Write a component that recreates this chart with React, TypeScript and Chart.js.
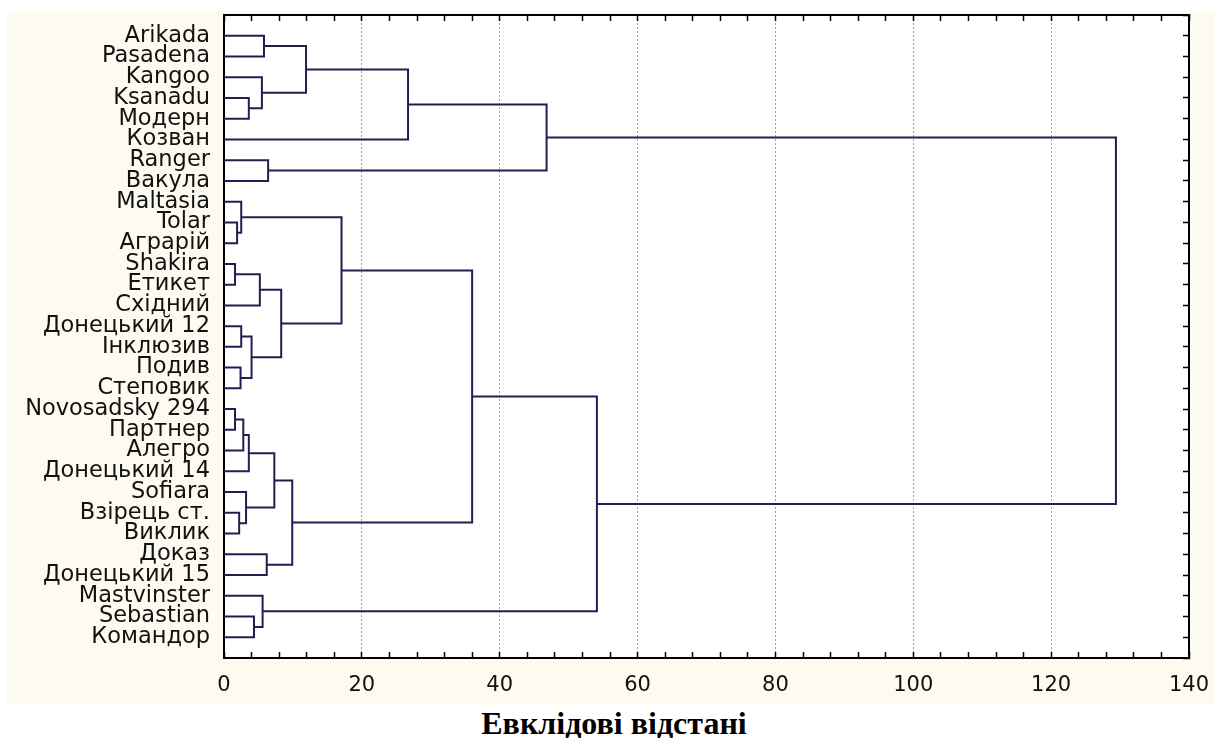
import React, { useEffect, useRef } from "react";
import { Chart, registerables } from "chart.js";

Chart.register(...registerables);

// Leaf labels (top to bottom)
const leaves = [
  "Arikada", "Pasadena", "Kangoo", "Ksanadu", "Модерн", "Козван", "Ranger", "Вакула",
  "Maltasia", "Tolar", "Аграрій", "Shakira", "Етикет", "Східний", "Донецький 12", "Інклюзив",
  "Подив", "Степовик", "Novosadsky 294", "Партнер", "Алегро", "Донецький 14", "Sofiara",
  "Взірець ст.", "Виклик", "Доказ", "Донецький 15", "Mastvinster", "Sebastian", "Командор",
];

// Merge steps: ids < 30 are leaves, id 30+k is the cluster formed at step k
const mergeA = [0, 3, 2, 30, 33, 6, 34, 9, 8, 11, 39, 14, 16, 41, 40, 38, 18, 46, 47, 23, 22, 48, 25, 51, 45, 28, 27, 54, 36];
const mergeB = [1, 4, 31, 32, 5, 7, 35, 10, 37, 12, 13, 15, 17, 42, 43, 44, 19, 20, 21, 24, 49, 50, 26, 52, 53, 29, 55, 56, 57];
const mergeHeight = [5.8, 3.6, 5.5, 11.9, 26.7, 6.4, 46.8, 1.9, 2.5, 1.6, 5.2, 2.5, 2.4, 4.0, 8.3, 17.05, 1.6, 2.8, 3.6, 2.2, 3.2, 7.3, 6.2, 9.9, 36.0, 4.35, 5.6, 54.1, 129.4];

const xTickValues = [0, 20, 40, 60, 80, 100, 120, 140];
const axisTitle = "Евклідові відстані";

const LINE = "#202050";

function buildDatasets() {
  const n = leaves.length;
  const pos: number[] = leaves.map((_, i) => i);
  const hgt: number[] = leaves.map(() => 0);
  const sets: any[] = [];
  mergeA.forEach((a, k) => {
    const b = mergeB[k];
    const h = mergeHeight[k];
    sets.push({
      type: "scatter",
      data: [
        { x: hgt[a], y: pos[a] },
        { x: h, y: pos[a] },
        { x: h, y: pos[b] },
        { x: hgt[b], y: pos[b] },
      ],
      showLine: true,
      borderColor: LINE,
      backgroundColor: LINE,
      borderWidth: 2,
      pointRadius: 0,
      fill: false,
      tension: 0,
      xAxisID: "x",
      yAxisID: "y",
    });
    pos[n + k] = (pos[a] + pos[b]) / 2;
    hgt[n + k] = h;
  });
  return sets;
}

const plotBg = {
  id: "plotBg",
  beforeDraw(chart: any) {
    const { ctx, chartArea } = chart;
    ctx.save();
    ctx.fillStyle = "#ffffff";
    ctx.fillRect(chartArea.left, chartArea.top, chartArea.right - chartArea.left, chartArea.bottom - chartArea.top);
    ctx.restore();
  },
};

const noPad = (s: any) => {
  s.paddingTop = 0;
  s.paddingBottom = 0;
  s.paddingLeft = 0;
  s.paddingRight = 0;
};

export default function App() {
  const ref = useRef<HTMLCanvasElement>(null);
  useEffect(() => {
    if (!ref.current) return;
    const chart = new Chart(ref.current, {
      type: "scatter",
      data: { datasets: buildDatasets() },
      plugins: [plotBg],
      options: {
        animation: false,
        responsive: true,
        maintainAspectRatio: false,
        layout: { padding: { top: 4, right: 26, left: 0, bottom: 0 } },
        plugins: { legend: { display: false }, tooltip: { enabled: false } },
        scales: {
          x: {
            type: "linear",
            position: "bottom",
            min: 0,
            max: 140,
            afterFit: (s: any) => { s.height = 47; noPad(s); },
            ticks: {
              stepSize: 4,
              autoSkip: false,
              maxRotation: 0,
              padding: 21,
              color: "#111",
              font: { family: "DejaVu Sans", size: 21 },
              callback: (v: any) => (xTickValues.includes(Number(v)) ? String(v) : ""),
            },
            grid: {
              color: (c: any) => {
                const v = c.tick ? c.tick.value : -1;
                return v > 0 && v < 140 && v % 20 === 0 ? "#a0a0a0" : "rgba(0,0,0,0)";
              },
              lineWidth: 1,
              tickColor: "#000",
              tickLength: -6,
              tickWidth: 1.5,
            },
            border: { color: "#000", width: 2, dash: [2, 2] },
          },
          x2: {
            type: "linear",
            position: "top",
            min: 0,
            max: 140,
            afterFit: (s: any) => { s.height = 0; noPad(s); },
            ticks: { display: false, stepSize: 4, autoSkip: false },
            grid: { drawOnChartArea: false, tickColor: "#000", tickLength: -6, tickWidth: 1.5 },
            border: { color: "#000", width: 2 },
          },
          y: {
            type: "linear",
            position: "left",
            min: -1,
            max: 30,
            reverse: true,
            afterFit: (s: any) => { s.width = 217; noPad(s); },
            ticks: {
              stepSize: 1,
              autoSkip: false,
              maxTicksLimit: 100,
              padding: 14,
              color: "#111",
              font: { family: "DejaVu Sans", size: 22.5 },
              callback: (v: any) => leaves[Math.round(Number(v))] ?? "",
            },
            grid: { drawOnChartArea: false, drawTicks: false },
            border: { color: "#000", width: 2 },
          },
          y2: {
            type: "linear",
            position: "right",
            min: -1,
            max: 30,
            reverse: true,
            afterFit: (s: any) => { s.width = 0; noPad(s); },
            ticks: { display: false, stepSize: 1, autoSkip: false, maxTicksLimit: 100 },
            grid: { drawOnChartArea: false, tickColor: "#000", tickLength: -6, tickWidth: 1.5 },
            border: { color: "#000", width: 2 },
          },
        },
      } as any,
    });
    return () => chart.destroy();
  }, []);

  return (
    <div>
      <div
        style={{
          position: "absolute",
          left: 7,
          top: 11,
          width: 1208,
          height: 694,
          background: "#fdfaf0",
        }}
      >
        <canvas ref={ref} />
      </div>
      <div
        style={{
          position: "absolute",
          left: 314,
          top: 706,
          width: 600,
          height: 34,
          lineHeight: "34px",
          textAlign: "center",
          fontFamily: "'Liberation Serif', 'Times New Roman', serif",
          fontWeight: "bold",
          fontSize: 32,
          color: "#000",
        }}
      >
        {axisTitle}
      </div>
    </div>
  );
}
